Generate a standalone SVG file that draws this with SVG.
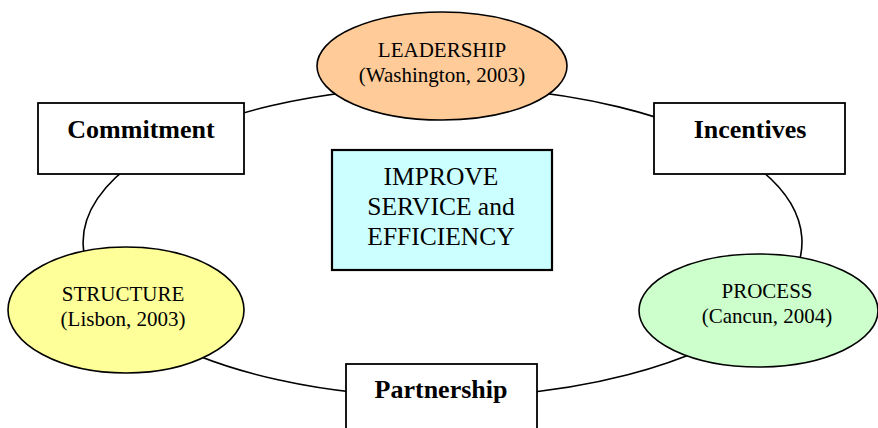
<svg xmlns="http://www.w3.org/2000/svg" width="878" height="428" viewBox="0 0 878 428">
  <style>
    .link { fill: none; stroke: #000; stroke-width: 1.6; }
    .box { fill: #fff; stroke: #000; stroke-width: 1.8; }
    .oval { stroke: #000; stroke-width: 1.6; }
    .lbl { font-family: "Liberation Serif", "Times New Roman", serif; text-anchor: middle; fill: #000; }
    .sm { font-size: 21px; }
    .bd { font-size: 26px; font-weight: bold; }
    .mid { font-size: 25.5px; }
  </style>
  <rect width="878" height="428" fill="#fff"/>

  <!-- ring of connectors: arcs of one ellipse (cx 442.5, cy 242) -->
  <g id="connectors">
    <path class="link" d="M442.5 87 A359.5 155 0 0 1 749.5 161.4"/>
    <path class="link" d="M749.5 161.4 A359.5 155 0 0 1 760 314.7"/>
    <path class="link" d="M760 314.7 A359.5 155 0 0 1 442.5 397"/>
    <path class="link" d="M442.5 397 A359.5 155 0 0 1 150 332"/>
    <path class="link" d="M150 332 A359.5 155 0 0 1 141 157.6"/>
    <path class="link" d="M141 157.6 A359.5 155 0 0 1 442.5 87"/>
  </g>

  <g id="leadership">
    <ellipse class="oval" cx="442" cy="66" rx="125" ry="54" fill="#FFCC99"/>
    <text class="lbl sm" x="442" y="57">LEADERSHIP</text>
    <text class="lbl sm" x="442" y="82">(Washington, 2003)</text>
  </g>

  <g id="commitment">
    <rect class="box" x="38" y="103" width="206" height="71"/>
    <text class="lbl bd" x="141" y="138">Commitment</text>
  </g>

  <g id="incentives">
    <rect class="box" x="654" y="103" width="191" height="71"/>
    <text class="lbl bd" x="750" y="138">Incentives</text>
  </g>

  <g id="goal">
    <rect x="332" y="150" width="220" height="120" fill="#CCFFFF" stroke="#000" stroke-width="2.2"/>
    <text class="lbl mid" x="441" y="185">IMPROVE</text>
    <text class="lbl mid" x="441" y="215">SERVICE and</text>
    <text class="lbl mid" x="441" y="245">EFFICIENCY</text>
  </g>

  <g id="structure">
    <ellipse class="oval" cx="126" cy="310" rx="118" ry="63" fill="#FFFF99"/>
    <text class="lbl sm" x="123" y="301">STRUCTURE</text>
    <text class="lbl sm" x="123" y="326">(Lisbon, 2003)</text>
  </g>

  <g id="process">
    <ellipse class="oval" cx="758.5" cy="310.5" rx="119.5" ry="56.5" fill="#CCFFCC"/>
    <text class="lbl sm" x="767" y="298">PROCESS</text>
    <text class="lbl sm" x="767" y="323">(Cancun, 2004)</text>
  </g>

  <g id="partnership">
    <rect class="box" x="346" y="364" width="191" height="80"/>
    <text class="lbl bd" x="441" y="398">Partnership</text>
  </g>
</svg>
